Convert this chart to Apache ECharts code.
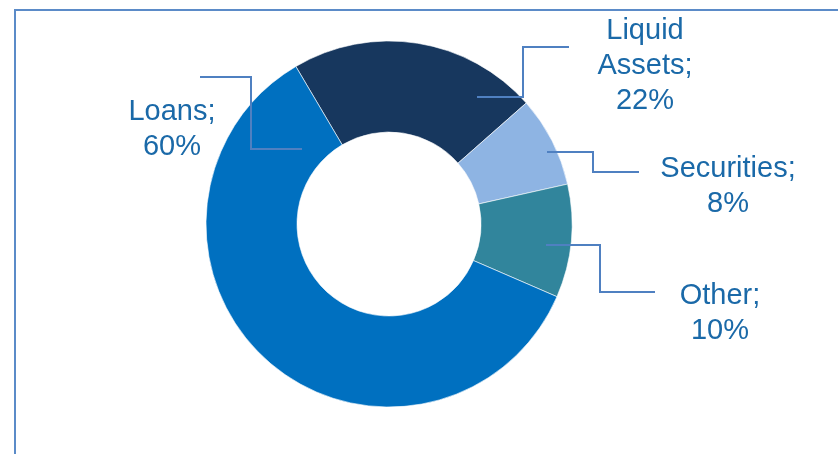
<!DOCTYPE html>
<html>
<head>
<meta charset="utf-8">
<script src="https://cdn.jsdelivr.net/npm/echarts@6/dist/echarts.min.js"></script>
<style>
  html, body { margin: 0; padding: 0; background: #ffffff; }
  #chart { width: 838px; height: 454px; }
</style>
</head>
<body>
<div id="chart"></div>
<script>
// Asset composition (percent of total)
const categories = ['Liquid Assets', 'Securities', 'Other', 'Loans'];
const shares = [22, 8, 10, 60];

// Slice colours, in category order
const sliceColors = ['#17375E', '#8EB4E3', '#31859C', '#0070C0'];

// Donut geometry
const CENTER = [389, 224];
const RADIUS = [92, 183];

// Label placement and elbow leader paths, as offsets from the donut centre
const labelPlacement = {
  'Liquid Assets': { label: [256, -158], path: [[88, -127], [134, -127], [134, -177], [180, -177]] },
  'Securities':    { label: [339, -38],  path: [[158, -72], [204, -72], [204, -52], [250, -52]] },
  'Other':         { label: [331, 89.5], path: [[157, 21], [211, 21], [211, 68], [266, 68]] },
  'Loans':         { label: [-217, -94.5], path: [[-87, -75], [-138, -75], [-138, -147], [-189, -147]] }
};

const toPx = pt => [CENTER[0] + pt[0], CENTER[1] + pt[1]];

const chart = echarts.init(document.getElementById('chart'), null, { renderer: 'canvas' });

const data = categories.map((name, i) => ({
  name: name,
  value: shares[i],
  itemStyle: { color: sliceColors[i] }
}));

// Outer frame plus elbow leader lines, drawn above the slices
const frame = {
  type: 'rect',
  z: 0,
  shape: { x: 15, y: 10, width: 900, height: 500 },
  style: { fill: 'none', stroke: '#5B8BC8', lineWidth: 2 },
  silent: true
};
const leaders = categories.map(name => ({
  type: 'polyline',
  z: 100,
  silent: true,
  shape: { points: labelPlacement[name].path.map(toPx) },
  style: { fill: 'none', stroke: '#4F80C1', lineWidth: 2 }
}));

chart.setOption({
  animation: false,
  backgroundColor: '#ffffff',
  graphic: [frame].concat(leaders),
  series: [{
    type: 'pie',
    center: CENTER,
    radius: RADIUS,
    startAngle: 120.6,
    clockwise: true,
    avoidLabelOverlap: false,
    emphasis: { disabled: true },
    itemStyle: { borderColor: '#ffffff', borderWidth: 0.6 },
    label: {
      show: true,
      position: 'outside',
      formatter: p => p.name.replace(' ', '\n') + ';\n' + p.value + '%',
      fontFamily: '"Liberation Sans", Arial, sans-serif',
      fontSize: 29,
      lineHeight: 35,
      color: '#1A69A8',
      align: 'center'
    },
    labelLine: { show: false },
    labelLayout: function (params) {
      const place = labelPlacement[categories[params.dataIndex]];
      const pos = toPx(place.label);
      return {
        x: pos[0],
        y: pos[1],
        align: 'center',
        verticalAlign: 'middle'
      };
    },
    data: data
  }]
});
</script>
</body>
</html>
